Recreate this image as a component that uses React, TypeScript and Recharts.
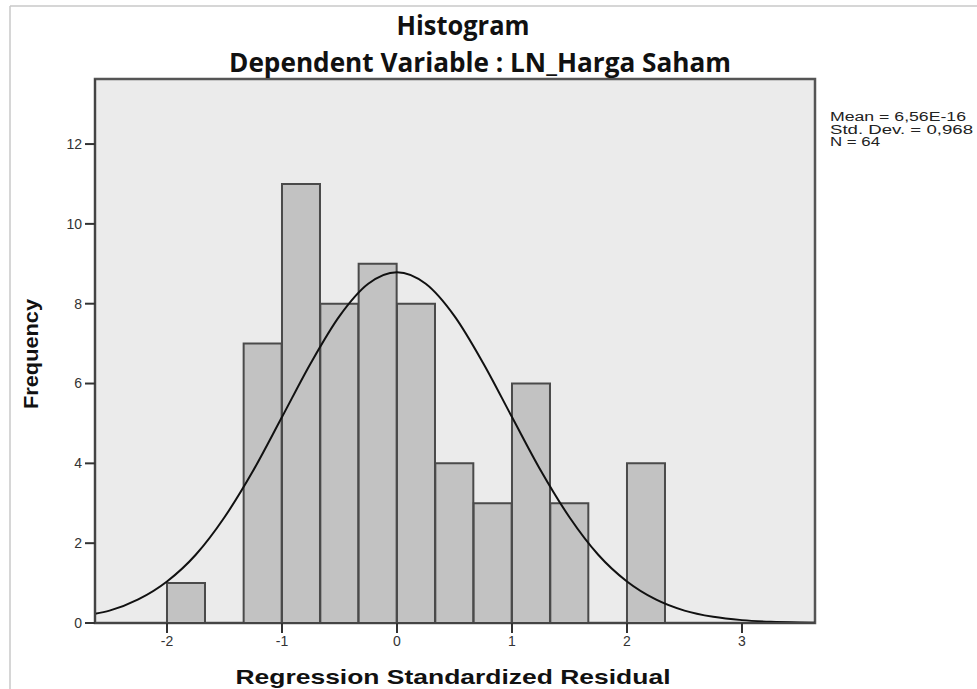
import React from 'react';
import {
  ComposedChart,
  Bar,
  Line,
  XAxis,
  YAxis,
  CartesianGrid,
  ReferenceArea,
} from 'recharts';

// histogram bins (midpoints of 1/3-wide bins) and their counts
const binMids = [-1.8333, -1.5, -1.1667, -0.8333, -0.5, -0.1667, 0.1667, 0.5, 0.8333, 1.1667, 1.5, 1.8333, 2.1667];
const binCounts = [1, 0, 7, 11, 8, 9, 8, 4, 3, 6, 3, 0, 4];

// normal curve
const curveX = [-2.626, -2.5, -2.25, -2, -1.75, -1.5, -1.25, -1, -0.75, -0.5, -0.25, 0, 0.25, 0.5, 0.75, 1, 1.25, 1.5, 1.75, 2, 2.25, 2.5, 2.75, 3, 3.25, 3.5, 3.635];
const curveY = [0.23, 0.31, 0.59, 1.04, 1.71, 2.65, 3.82, 5.16, 6.51, 7.69, 8.5, 8.79, 8.5, 7.69, 6.51, 5.16, 3.82, 2.65, 1.71, 1.04, 0.59, 0.31, 0.155, 0.072, 0.031, 0.013, 0.008];

const xTicks = [-2, -1, 0, 1, 2, 3];
const yTicks = [0, 2, 4, 6, 8, 10, 12];
const xDomain: [number, number] = [-2.626, 3.635];
const yDomain: [number, number] = [0, 13.63];

const statLines = ['Mean = 6,56E-16', 'Std. Dev. = 0,968', 'N = 64'];
const statWidths = [136, 143, 50];

const bars = binMids.map((mid, i) => ({ mid, count: binCounts[i] }));
const curve = curveX.map((x, i) => ({ x, y: curveY[i] }));

const tickStyle = { fill: '#333', fontSize: 14, fontFamily: 'Liberation Sans, Arial, sans-serif' };

export default function App() {
  return (
    <div style={{ position: 'absolute', left: 0, top: 0, width: 977, height: 689, background: '#fff' }}>
      <ComposedChart
        width={977}
        height={689}
        data={bars}
        barCategoryGap={0}
        barGap={0}
        margin={{ top: 79, right: 162, left: 35, bottom: 36 }}
      >
        <CartesianGrid fill="#ebebeb" horizontal={false} vertical={false} />
        <XAxis
          xAxisId="bars"
          dataKey="mid"
          type="number"
          domain={xDomain}
          allowDataOverflow
          hide
        />
        <XAxis
          dataKey="x"
          type="number"
          domain={xDomain}
          allowDataOverflow
          ticks={xTicks}
          height={30}
          tickSize={10}
          tickMargin={3}
          tick={tickStyle}
          axisLine={{ stroke: '#444', strokeWidth: 2 }}
          tickLine={{ stroke: '#333', strokeWidth: 2 }}
        />
        <YAxis
          type="number"
          domain={yDomain}
          allowDataOverflow
          ticks={yTicks}
          width={60}
          tickSize={10}
          tickMargin={3}
          tick={tickStyle}
          axisLine={{ stroke: '#444', strokeWidth: 2 }}
          tickLine={{ stroke: '#333', strokeWidth: 2 }}
        />
        <Bar
          xAxisId="bars"
          dataKey="count"
          fill="#c2c2c2"
          stroke="#4a4a4a"
          strokeWidth={2}
          isAnimationActive={false}
        />
        <Line
          data={curve}
          dataKey="y"
          type="monotone"
          stroke="#111"
          strokeWidth={2}
          dot={false}
          activeDot={false}
          isAnimationActive={false}
        />
        <ReferenceArea
          x1={xDomain[0]}
          x2={xDomain[1]}
          y1={yDomain[0]}
          y2={yDomain[1]}
          fill="none"
          stroke="#555"
          strokeWidth={2.5}
          ifOverflow="visible"
        />
      </ComposedChart>
      <svg
        width={977}
        height={689}
        style={{ position: 'absolute', left: 0, top: 0, pointerEvents: 'none' }}
      >
        <line x1={10} y1={6} x2={977} y2={6} stroke="#c8c8c8" strokeWidth={1.5} />
        <line x1={10} y1={6} x2={10} y2={689} stroke="#c8c8c8" strokeWidth={1.5} />
        <g fontFamily="Open Sans, sans-serif" fontWeight="bold" fill="#111" fontSize={26}>
          <text x={463} y={35} textAnchor="middle" textLength={133} lengthAdjust="spacingAndGlyphs">
            Histogram
          </text>
          <text x={480} y={72} textAnchor="middle" textLength={502} lengthAdjust="spacingAndGlyphs">
            Dependent Variable : LN_Harga Saham
          </text>
        </g>
        <g fontFamily="Liberation Sans, Arial, sans-serif" fontWeight="bold" fill="#111">
          <text x={453} y={684} textAnchor="middle" fontSize={21} textLength={435} lengthAdjust="spacingAndGlyphs">
            Regression Standardized Residual
          </text>
          <text
            x={0}
            y={0}
            textAnchor="middle"
            fontSize={20}
            textLength={110}
            lengthAdjust="spacingAndGlyphs"
            transform="translate(38 354) rotate(-90)"
          >
            Frequency
          </text>
        </g>
        <g fontFamily="Liberation Sans, Arial, sans-serif" fill="#222" fontSize={12}>
          {statLines.map((s, i) => (
            <text
              key={s}
              x={830}
              y={121 + i * 12.5}
              textLength={statWidths[i]}
              lengthAdjust="spacingAndGlyphs"
            >
              {s}
            </text>
          ))}
        </g>
      </svg>
    </div>
  );
}
